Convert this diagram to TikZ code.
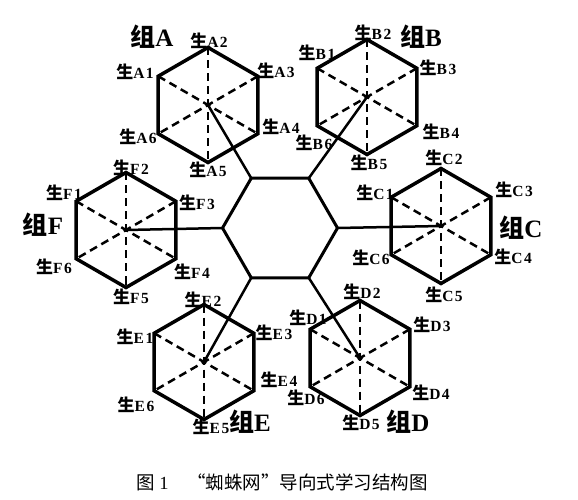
\documentclass[tikz,border=0pt]{standalone}
\usepackage{fontspec}
\setmainfont{Liberation Serif}
\newfontfamily\cjk{Noto Sans CJK SC}
\usetikzlibrary{shapes.geometric}
\newcommand{\sheng}[1]{{\cjk\fontsize{17}{17}\selectfont 生}\addfontfeature{LetterSpace=10}#1}
\newcommand{\zu}[1]{{\cjk 组}#1}
\tikzstyle{hub} = [regular polygon, regular polygon sides=6, minimum size=115pt, inner sep=0pt, outer sep=0pt, draw=black, line width=3pt]
\tikzstyle{group} = [regular polygon, regular polygon sides=6, shape border rotate=30, minimum size=115pt, inner sep=0pt, outer sep=0pt, draw=black, line width=3.5pt]
\tikzstyle{spoke} = [line width=2.5pt]
\tikzstyle{diag} = [line width=2.5pt, dash pattern=on 8pt off 5pt]
\tikzstyle{member} = [inner sep=0pt, font=\bfseries\fontsize{15.5}{15.5}\selectfont]
\tikzstyle{grouplabel} = [inner sep=0pt, font=\bfseries\fontsize{25}{25}\selectfont]

\begin{document}
\begin{tikzpicture}[x=1pt, y=-1pt]
  \useasboundingbox (0,0) rectangle (578,500);

  % centre and the six groups
  \node (hub) [hub] at (280,228) {};
  \node (gA) [group] at (208,105) {};
  \node (gB) [group] at (367,97) {};
  \node (gC) [group] at (441,226) {};
  \node (gD) [group] at (360,358) {};
  \node (gE) [group] at (204,362) {};
  \node (gF) [group] at (126,230) {};

  % spokes
  \draw [spoke] (hub.120) -- (gA.center);
  \draw [spoke] (hub.60) -- (gB.center);
  \draw [spoke] (hub.0) -- (gC.center);
  \draw [spoke] (hub.300) -- (gD.center);
  \draw [spoke] (hub.240) -- (gE.center);
  \draw [spoke] (hub.180) -- (gF.center);

  % diagonals
  \draw [diag] (gA.90) -- (gA.270);
  \draw [diag] (gA.30) -- (gA.210);
  \draw [diag] (gA.150) -- (gA.330);
  \draw [diag] (gB.90) -- (gB.270);
  \draw [diag] (gB.30) -- (gB.210);
  \draw [diag] (gB.150) -- (gB.330);
  \draw [diag] (gC.90) -- (gC.270);
  \draw [diag] (gC.30) -- (gC.210);
  \draw [diag] (gC.150) -- (gC.330);
  \draw [diag] (gD.90) -- (gD.270);
  \draw [diag] (gD.30) -- (gD.210);
  \draw [diag] (gD.150) -- (gD.330);
  \draw [diag] (gE.90) -- (gE.270);
  \draw [diag] (gE.30) -- (gE.210);
  \draw [diag] (gE.150) -- (gE.330);
  \draw [diag] (gF.90) -- (gF.270);
  \draw [diag] (gF.30) -- (gF.210);
  \draw [diag] (gF.150) -- (gF.330);

  % group A
  \node (nA) [grouplabel] at (152,37) {\zu{A}};
  \node (a1) [member] at (135,72) {\sheng{A1}};
  \node (a2) [member] at (209,41) {\sheng{A2}};
  \node (a3) [member] at (276,71) {\sheng{A3}};
  \node (a4) [member] at (281,127) {\sheng{A4}};
  \node (a5) [member] at (208,170) {\sheng{A5}};
  \node (a6) [member] at (138,137) {\sheng{A6}};

  % group B
  \node (nB) [grouplabel] at (421,37) {\zu{B}};
  \node (b1) [member] at (317,53) {\sheng{B1}};
  \node (b2) [member] at (373,33) {\sheng{B2}};
  \node (b3) [member] at (438,68) {\sheng{B3}};
  \node (b4) [member] at (441,132) {\sheng{B4}};
  \node (b5) [member] at (369,163) {\sheng{B5}};
  \node (b6) [member] at (314,143) {\sheng{B6}};

  % group C
  \node (nC) [grouplabel] at (521,228) {\zu{C}};
  \node (c1) [member] at (375,193) {\sheng{C1}};
  \node (c2) [member] at (444,158) {\sheng{C2}};
  \node (c3) [member] at (514,190) {\sheng{C3}};
  \node (c4) [member] at (513,257) {\sheng{C4}};
  \node (c5) [member] at (444,295) {\sheng{C5}};
  \node (c6) [member] at (371,258) {\sheng{C6}};

  % group D
  \node (nD) [grouplabel] at (408,422) {\zu{D}};
  \node (d1) [member] at (308,318) {\sheng{D1}};
  \node (d2) [member] at (362,292) {\sheng{D2}};
  \node (d3) [member] at (432,325) {\sheng{D3}};
  \node (d4) [member] at (431,393) {\sheng{D4}};
  \node (d5) [member] at (361,423) {\sheng{D5}};
  \node (d6) [member] at (306,398) {\sheng{D6}};

  % group E
  \node (nE) [grouplabel] at (250,422) {\zu{E}};
  \node (e1) [member] at (135,337) {\sheng{E1}};
  \node (e2) [member] at (203,300) {\sheng{E2}};
  \node (e3) [member] at (274,333) {\sheng{E3}};
  \node (e4) [member] at (279,380) {\sheng{E4}};
  \node (e5) [member] at (211,427) {\sheng{E5}};
  \node (e6) [member] at (136,405) {\sheng{E6}};

  % group F
  \node (nF) [grouplabel] at (43,225) {\zu{F}};
  \node (f1) [member] at (64,193) {\sheng{F1}};
  \node (f2) [member] at (131,168) {\sheng{F2}};
  \node (f3) [member] at (197,203) {\sheng{F3}};
  \node (f4) [member] at (192,272) {\sheng{F4}};
  \node (f5) [member] at (131,297) {\sheng{F5}};
  \node (f6) [member] at (54,267) {\sheng{F6}};

  % caption
  \node (cap) [font=\fontsize{18.5}{18.5}\selectfont] at (282,482) {{\cjk 图} 1\quad{\cjk “蜘蛛网”导向式学习结构图}};
\end{tikzpicture}
\end{document}
